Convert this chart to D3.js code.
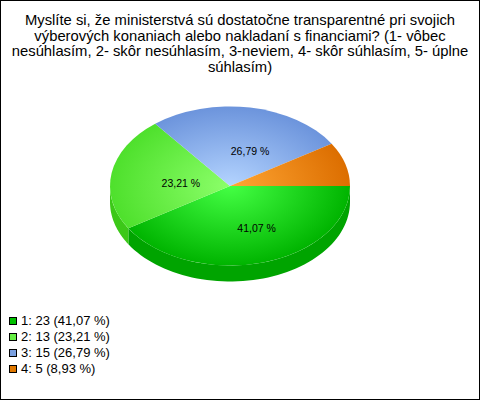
<!DOCTYPE html>
<html>
<head>
<meta charset="utf-8">
<script src="https://cdn.jsdelivr.net/npm/d3@7"></script>
<style>
  body { margin: 0; background: #fff; }
  text { font-family: "Liberation Sans", Arial, sans-serif; }
</style>
</head>
<body>
<div id="chart"></div>
<script>
var titleLines = [
  "Myslíte si, že ministerstvá sú dostatočne transparentné pri svojich",
  "výberových konaniach alebo nakladaní s financiami? (1- vôbec",
  "nesúhlasím, 2- skôr nesúhlasím, 3-neviem, 4- skôr súhlasím, 5- úplne",
  "súhlasím)"
];
var categories = ["1", "2", "3", "4"];
var counts = [23, 13, 15, 5];
var percents = ["41,07", "23,21", "26,79", "8,93"];

var topInner = ["#44ff44", "#8cff6a", "#b4d4ff", "#ffa634"];
var topOuter = ["#00b400", "#4ee02c", "#6c94dc", "#dc6e00"];
var sideColors = ["#00a400", "#3cc818", "#5a80c8", "#c06000"];
var legendColors = ["#00c000", "#66ee44", "#7aa0e0", "#e07800"];

var W = 480, H = 400;
var cx = 230, cy = 186, rx = 120, ry = 79.5, depth = 16;

var svg = d3.select("#chart").append("svg")
  .attr("width", W)
  .attr("height", H);

svg.append("rect")
  .attr("x", 0.5).attr("y", 0.5)
  .attr("width", W - 1).attr("height", H - 1)
  .attr("fill", "#fff")
  .attr("stroke", "#000");

// title
svg.append("g").selectAll("text")
  .data(titleLines)
  .enter().append("text")
  .attr("x", W / 2)
  .attr("y", function(d, i) { return 25 + i * 15.5; })
  .attr("text-anchor", "middle")
  .style("font-size", "14.8px")
  .attr("fill", "#000")
  .text(function(d) { return d; });

var data = categories.map(function(c, i) {
  return {cat: c, count: counts[i], pct: percents[i], i: i};
});

// d3 angles: 0 = up, clockwise. Start at 3 o'clock
var pie = d3.pie()
  .sort(null)
  .value(function(d) { return d.count; })
  .startAngle(Math.PI / 2)
  .endAngle(Math.PI / 2 + 2 * Math.PI);

var arcs = pie(data);

var defs = svg.append("defs");
arcs.forEach(function(a, i) {
  var g = defs.append("radialGradient")
    .attr("id", "grad" + i)
    .attr("gradientUnits", "userSpaceOnUse")
    .attr("cx", 0).attr("cy", 0).attr("r", rx);
  g.append("stop").attr("offset", "0%").attr("stop-color", topInner[i]);
  g.append("stop").attr("offset", "100%").attr("stop-color", topOuter[i]);
});

function pt(angle, dy) {
  return [cx + rx * Math.sin(angle), cy - ry * Math.cos(angle) + dy];
}

// side walls (front half only: angles pi/2 .. 3pi/2)
var sides = svg.append("g");
arcs.forEach(function(a, i) {
  var a0 = Math.max(a.startAngle, Math.PI / 2);
  var a1 = Math.min(a.endAngle, 3 * Math.PI / 2);
  if (a1 <= a0) return;
  var n = 60, top = [], bottom = [];
  for (var k = 0; k <= n; k++) {
    var t = a0 + (a1 - a0) * k / n;
    top.push(pt(t, 0));
    bottom.push(pt(t, depth));
  }
  var ptsAll = top.concat(bottom.reverse());
  sides.append("path")
    .attr("d", d3.line()(ptsAll) + "Z")
    .attr("fill", sideColors[i]);
});

// top face: circle arcs squashed into ellipse
var arc = d3.arc().innerRadius(0).outerRadius(rx);
var topG = svg.append("g")
  .attr("transform", "translate(" + cx + "," + cy + ") scale(1," + (ry / rx) + ")");
topG.selectAll("path")
  .data(arcs)
  .enter().append("path")
  .attr("d", arc)
  .attr("fill", function(d, i) { return "url(#grad" + i + ")"; });

// labels (small slice has none, as in the original)
svg.append("g").selectAll("text")
  .data(arcs)
  .enter().append("text")
  .attr("x", function(d) {
    var m = (d.startAngle + d.endAngle) / 2;
    return cx + 10 + 0.5 * rx * Math.sin(m);
  })
  .attr("y", function(d) {
    var m = (d.startAngle + d.endAngle) / 2;
    return cy + 8 - 0.5 * ry * Math.cos(m);
  })
  .attr("text-anchor", "middle")
  .style("font-size", "10.5px")
  .attr("fill", "#000")
  .text(function(d) { return d.data.i === 3 ? "" : d.data.pct + " %"; });

// legend
var legend = svg.append("g").selectAll("g")
  .data(data)
  .enter().append("g")
  .attr("transform", function(d, i) { return "translate(9," + (317 + i * 16) + ")"; });

legend.append("rect")
  .attr("x", 0.5).attr("y", 0.5)
  .attr("width", 7).attr("height", 7)
  .attr("fill", function(d, i) { return legendColors[i]; })
  .attr("stroke", "#000");

legend.append("text")
  .attr("x", 12)
  .attr("y", 8)
  .style("font-size", "13px")
  .attr("fill", "#000")
  .text(function(d) { return d.cat + ": " + d.count + " (" + d.pct + " %)"; });
</script>
</body>
</html>
